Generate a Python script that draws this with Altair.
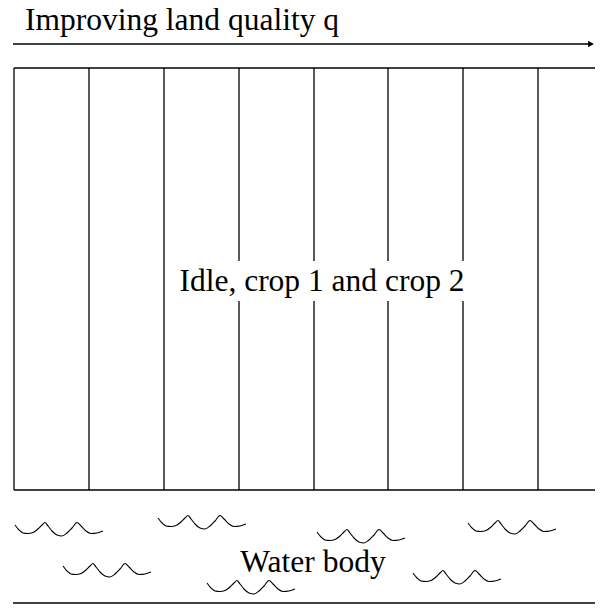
import altair as alt
import pandas as pd

# ---- data (page pixel coordinates) ----
strip_x = [14, 89, 164, 239, 314, 388, 463, 538]   # vertical strip borders
box_top, box_bottom, box_left, box_right = 68, 490, 14, 603
arrow_y, arrow_x0, arrow_x1 = 44, 13, 591
water_line_y = 603

title_text = "Improving land quality q"
center_text = "Idle, crop 1 and crop 2"
water_text = "Water body"

title_pos = (25, 30)
center_pos = (322, 291)
water_pos = (313, 572)
label_bg = (170, 475, 261, 301)   # x0, x1, y0, y1 of the white patch behind the centre label

wave_dx = [0, 4, 8, 13, 18, 23, 27, 30, 33, 37, 42, 47, 52, 57, 62, 66, 71, 76, 82, 88]
wave_dy = [0, 5, 8, 8.5, 7.5, 4, 0, -2.5, 1, 6, 10, 11, 8, 3, -2.5, 1, 6, 8.5, 8, 6]
wave_start_x = [15, 158, 317, 468, 63, 207, 413]
wave_start_y = [525, 518, 532, 523, 566, 583, 573]

# ---- tables ----
vlines = pd.DataFrame({"x": strip_x, "y": [box_top] * len(strip_x), "y2": [box_bottom] * len(strip_x)})
hlines = pd.DataFrame({
    "x": [box_left, box_left, arrow_x0, 13],
    "x2": [box_right, box_right, arrow_x1, 603],
    "y": [box_top, box_bottom, arrow_y, water_line_y],
})
texts = pd.DataFrame({
    "x": [title_pos[0], center_pos[0], water_pos[0]],
    "y": [title_pos[1], center_pos[1], water_pos[1]],
    "t": [title_text, center_text, water_text],
})
bg = pd.DataFrame({"x": [label_bg[0]], "x2": [label_bg[1]], "y": [label_bg[2]], "y2": [label_bg[3]]})
rows = []
for i, (sx, sy) in enumerate(zip(wave_start_x, wave_start_y)):
    for k, (dx, dy) in enumerate(zip(wave_dx, wave_dy)):
        rows.append({"w": i, "k": k, "x": sx + dx, "y": sy + dy})
waves = pd.DataFrame(rows)
head = pd.DataFrame({"x": [arrow_x1], "y": [arrow_y]})

xs = alt.Scale(domain=[8, 595], nice=False, zero=False)
ys = alt.Scale(domain=[8, 604], nice=False, zero=False, reverse=True)

X = lambda f="x": alt.X(f"{f}:Q", scale=xs, axis=None)
Y = lambda f="y": alt.Y(f"{f}:Q", scale=ys, axis=None)

v = alt.Chart(vlines).mark_rule(color="black", strokeWidth=1.3, clip=True).encode(
    x=X(), y=Y(), y2="y2:Q")
h = alt.Chart(hlines).mark_rule(color="black", strokeWidth=1.5, clip=True).encode(
    x=X(), x2="x2:Q", y=Y())
patch = alt.Chart(bg).mark_rect(color="white", opacity=1).encode(
    x=X(), x2="x2:Q", y=Y(), y2="y2:Q")
w = alt.Chart(waves).mark_line(color="black", strokeWidth=1.1, interpolate="monotone").encode(
    x=X(), y=Y(), detail="w:N", order="k:Q")
arr = alt.Chart(head).mark_point(shape="triangle-right", filled=True, size=45, color="black", opacity=1).encode(
    x=X(), y=Y())
t_left = alt.Chart(texts.iloc[[0]]).mark_text(
    font="Liberation Serif", fontSize=31.5, align="left", baseline="alphabetic", color="black").encode(
    x=X(), y=Y(), text="t:N")
t_center = alt.Chart(texts.iloc[[1, 2]]).mark_text(
    font="Liberation Serif", fontSize=31.5, align="center", baseline="alphabetic", color="black").encode(
    x=X(), y=Y(), text="t:N")

chart = alt.layer(v, h, patch, w, arr, t_left, t_center).properties(
    width=587, height=596, autosize="none", padding=0
).configure_view(stroke=None)

chart.save("out.html", embed_options={"renderer": "svg", "actions": False})
